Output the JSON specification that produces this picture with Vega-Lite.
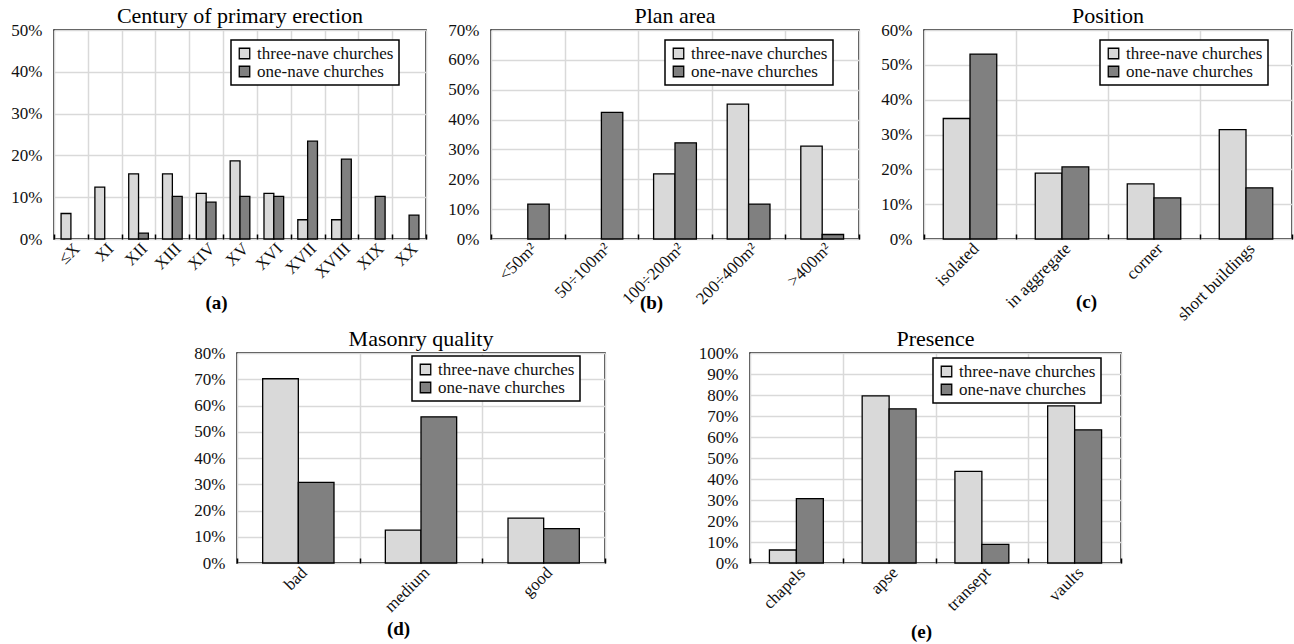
{
  "$schema": "https://vega.github.io/schema/vega-lite/v6.json",
  "padding": {"left": 10, "top": 4, "right": 0, "bottom": 0},
  "background": "white",
  "datasets": {
    "a": [
      {"cat": "≤X", "type": "three-nave churches", "v": 6.1},
      {"cat": "XI", "type": "three-nave churches", "v": 12.4},
      {"cat": "XII", "type": "three-nave churches", "v": 15.6},
      {"cat": "XII", "type": "one-nave churches", "v": 1.4},
      {"cat": "XIII", "type": "three-nave churches", "v": 15.6},
      {"cat": "XIII", "type": "one-nave churches", "v": 10.2},
      {"cat": "XIV", "type": "three-nave churches", "v": 10.9},
      {"cat": "XIV", "type": "one-nave churches", "v": 8.8},
      {"cat": "XV", "type": "three-nave churches", "v": 18.7},
      {"cat": "XV", "type": "one-nave churches", "v": 10.2},
      {"cat": "XVI", "type": "three-nave churches", "v": 10.9},
      {"cat": "XVI", "type": "one-nave churches", "v": 10.2},
      {"cat": "XVII", "type": "three-nave churches", "v": 4.6},
      {"cat": "XVII", "type": "one-nave churches", "v": 23.4},
      {"cat": "XVIII", "type": "three-nave churches", "v": 4.6},
      {"cat": "XVIII", "type": "one-nave churches", "v": 19.1},
      {"cat": "XIX", "type": "one-nave churches", "v": 10.2},
      {"cat": "XX", "type": "one-nave churches", "v": 5.7}
    ],
    "b": [
      {"cat": "<50m²", "type": "one-nave churches", "v": 11.7},
      {"cat": "50÷100m²", "type": "one-nave churches", "v": 42.4},
      {"cat": "100÷200m²", "type": "three-nave churches", "v": 21.8},
      {"cat": "100÷200m²", "type": "one-nave churches", "v": 32.2},
      {"cat": "200÷400m²", "type": "three-nave churches", "v": 45.2},
      {"cat": "200÷400m²", "type": "one-nave churches", "v": 11.7},
      {"cat": ">400m²", "type": "three-nave churches", "v": 31.1},
      {"cat": ">400m²", "type": "one-nave churches", "v": 1.5}
    ],
    "c": [
      {"cat": "isolated", "type": "three-nave churches", "v": 34.6},
      {"cat": "isolated", "type": "one-nave churches", "v": 53.1},
      {"cat": "in aggregate", "type": "three-nave churches", "v": 18.9},
      {"cat": "in aggregate", "type": "one-nave churches", "v": 20.7},
      {"cat": "corner", "type": "three-nave churches", "v": 15.8},
      {"cat": "corner", "type": "one-nave churches", "v": 11.8},
      {"cat": "short buildings", "type": "three-nave churches", "v": 31.4},
      {"cat": "short buildings", "type": "one-nave churches", "v": 14.7}
    ],
    "d": [
      {"cat": "bad", "type": "three-nave churches", "v": 70.2},
      {"cat": "bad", "type": "one-nave churches", "v": 30.7},
      {"cat": "medium", "type": "three-nave churches", "v": 12.5},
      {"cat": "medium", "type": "one-nave churches", "v": 55.7},
      {"cat": "good", "type": "three-nave churches", "v": 17.1},
      {"cat": "good", "type": "one-nave churches", "v": 13.1}
    ],
    "e": [
      {"cat": "chapels", "type": "three-nave churches", "v": 6.2},
      {"cat": "chapels", "type": "one-nave churches", "v": 30.7},
      {"cat": "apse", "type": "three-nave churches", "v": 79.6},
      {"cat": "apse", "type": "one-nave churches", "v": 73.4},
      {"cat": "transept", "type": "three-nave churches", "v": 43.6},
      {"cat": "transept", "type": "one-nave churches", "v": 8.9},
      {"cat": "vaults", "type": "three-nave churches", "v": 74.8},
      {"cat": "vaults", "type": "one-nave churches", "v": 63.4}
    ]
  },
  "vconcat": [
    {
      "hconcat": [
        {
          "title": "Century of primary erection",
          "width": 372, "height": 209,
          "data": {"name": "a"},
          "mark": "bar",
          "encoding": {
            "x": {"field": "cat", "type": "nominal", "sort": null, "scale": {"paddingInner": 0, "paddingOuter": 0}, "axis": {"title": "(a)", "titleX": 162, "titleY": 63}},
            "xOffset": {"field": "type", "sort": ["three-nave churches", "one-nave churches"], "scale": {"paddingInner": 0, "paddingOuter": 0.72}},
            "y": {"field": "v", "type": "quantitative", "scale": {"domain": [0, 50], "nice": false}, "axis": {"title": null, "values": [0, 10, 20, 30, 40, 50], "labelExpr": "datum.value + '%'"}},
            "color": {"field": "type", "title": null, "scale": {"domain": ["three-nave churches", "one-nave churches"], "range": ["#d9d9d9", "#808080"]}, "legend": {"orient": "none", "legendX": 177, "legendY": 10}}
          }
        },
        {
          "title": "Plan area",
          "width": 368, "height": 209,
          "data": {"name": "b"},
          "mark": "bar",
          "encoding": {
            "x": {"field": "cat", "type": "nominal", "sort": null, "scale": {"paddingInner": 0, "paddingOuter": 0}, "axis": {"title": "(b)", "titleX": 160, "titleY": 63}},
            "xOffset": {"field": "type", "sort": ["three-nave churches", "one-nave churches"], "scale": {"paddingInner": 0, "paddingOuter": 0.72}},
            "y": {"field": "v", "type": "quantitative", "scale": {"domain": [0, 70], "nice": false}, "axis": {"title": null, "values": [0, 10, 20, 30, 40, 50, 60, 70], "labelExpr": "datum.value + '%'"}},
            "color": {"field": "type", "title": null, "scale": {"domain": ["three-nave churches", "one-nave churches"], "range": ["#d9d9d9", "#808080"]}, "legend": {"orient": "none", "legendX": 174, "legendY": 10}}
          }
        },
        {
          "title": "Position",
          "width": 368, "height": 209,
          "data": {"name": "c"},
          "mark": "bar",
          "encoding": {
            "x": {"field": "cat", "type": "nominal", "sort": null, "scale": {"paddingInner": 0, "paddingOuter": 0}, "axis": {"title": "(c)", "titleX": 162, "titleY": 62}},
            "xOffset": {"field": "type", "sort": ["three-nave churches", "one-nave churches"], "scale": {"paddingInner": 0, "paddingOuter": 0.72}},
            "y": {"field": "v", "type": "quantitative", "scale": {"domain": [0, 60], "nice": false}, "axis": {"title": null, "values": [0, 10, 20, 30, 40, 50, 60], "labelExpr": "datum.value + '%'"}},
            "color": {"field": "type", "title": null, "scale": {"domain": ["three-nave churches", "one-nave churches"], "range": ["#d9d9d9", "#808080"]}, "legend": {"orient": "none", "legendX": 176, "legendY": 10}}
          }
        }
      ],
      "spacing": 65,
      "bounds": "flush",
      "resolve": {"scale": {"color": "independent", "xOffset": "independent"}, "legend": {"color": "independent"}}
    },
    {
      "hconcat": [
        {
          "width": 38, "height": 10,
          "data": {"values": []},
          "mark": "text",
          "encoding": {},
          "view": {"stroke": null}
        },
        {
          "title": "Masonry quality",
          "width": 368, "height": 210,
          "data": {"name": "d"},
          "mark": "bar",
          "encoding": {
            "x": {"field": "cat", "type": "nominal", "sort": null, "scale": {"paddingInner": 0, "paddingOuter": 0}, "axis": {"title": "(d)", "titleX": 161, "titleY": 65}},
            "xOffset": {"field": "type", "sort": ["three-nave churches", "one-nave churches"], "scale": {"paddingInner": 0, "paddingOuter": 0.72}},
            "y": {"field": "v", "type": "quantitative", "scale": {"domain": [0, 80], "nice": false}, "axis": {"title": null, "values": [0, 10, 20, 30, 40, 50, 60, 70, 80], "labelExpr": "datum.value + '%'"}},
            "color": {"field": "type", "title": null, "scale": {"domain": ["three-nave churches", "one-nave churches"], "range": ["#d9d9d9", "#808080"]}, "legend": {"orient": "none", "legendX": 175, "legendY": 3}}
          }
        },
        {
          "title": "Presence",
          "width": 371, "height": 210,
          "data": {"name": "e"},
          "mark": "bar",
          "encoding": {
            "x": {"field": "cat", "type": "nominal", "sort": null, "scale": {"paddingInner": 0, "paddingOuter": 0}, "axis": {"title": "(e)", "titleX": 171, "titleY": 68}},
            "xOffset": {"field": "type", "sort": ["three-nave churches", "one-nave churches"], "scale": {"paddingInner": 0, "paddingOuter": 0.72}},
            "y": {"field": "v", "type": "quantitative", "scale": {"domain": [0, 100], "nice": false}, "axis": {"title": null, "values": [0, 10, 20, 30, 40, 50, 60, 70, 80, 90, 100], "labelExpr": "datum.value + '%'"}},
            "color": {"field": "type", "title": null, "scale": {"domain": ["three-nave churches", "one-nave churches"], "range": ["#d9d9d9", "#808080"]}, "legend": {"orient": "none", "legendX": 183, "legendY": 5}}
          }
        }
      ],
      "spacing": 145,
      "bounds": "flush",
      "resolve": {"scale": {"color": "independent", "xOffset": "independent"}, "legend": {"color": "independent"}}
    }
  ],
  "spacing": 3,
  "resolve": {"scale": {"color": "independent", "xOffset": "independent"}, "legend": {"color": "independent"}},
  "config": {
    "font": "Liberation Serif",
    "view": {"stroke": "black", "strokeWidth": 1.5},
    "axis": {
      "labelFont": "Liberation Serif",
      "labelFontSize": 17,
      "labelColor": "#111111",
      "ticks": false,
      "domain": false,
      "gridColor": "#d9d9d9",
      "gridWidth": 1.5,
      "titleFont": "Liberation Serif",
      "titleColor": "black"
    },
    "axisY": {"labelPadding": 12, "grid": true},
    "axisX": {
      "labelAngle": -45,
      "labelPadding": 6,
      "tickBand": "extent",
      "grid": true,
      "ticks": true,
      "tickSize": -5,
      "tickColor": "black",
      "tickWidth": 1.5,
      "titleFontWeight": "bold",
      "titleFontSize": 19,
      "titleBaseline": "middle"
    },
    "bar": {"stroke": "black", "strokeWidth": 1.3},
    "legend": {
      "strokeColor": "black",
      "strokeWidth": 1.5,
      "fillColor": "white",
      "padding": 5,
      "labelFont": "Liberation Serif",
      "labelFontSize": 17,
      "labelColor": "#111111",
      "symbolType": "square",
      "symbolSize": 110,
      "symbolStrokeColor": "black",
      "symbolStrokeWidth": 1,
      "labelOffset": 4,
      "rowPadding": 0
    },
    "title": {"font": "Liberation Serif", "fontSize": 22, "fontWeight": "normal", "frame": "group", "offset": -7, "color": "black"}
  }
}
